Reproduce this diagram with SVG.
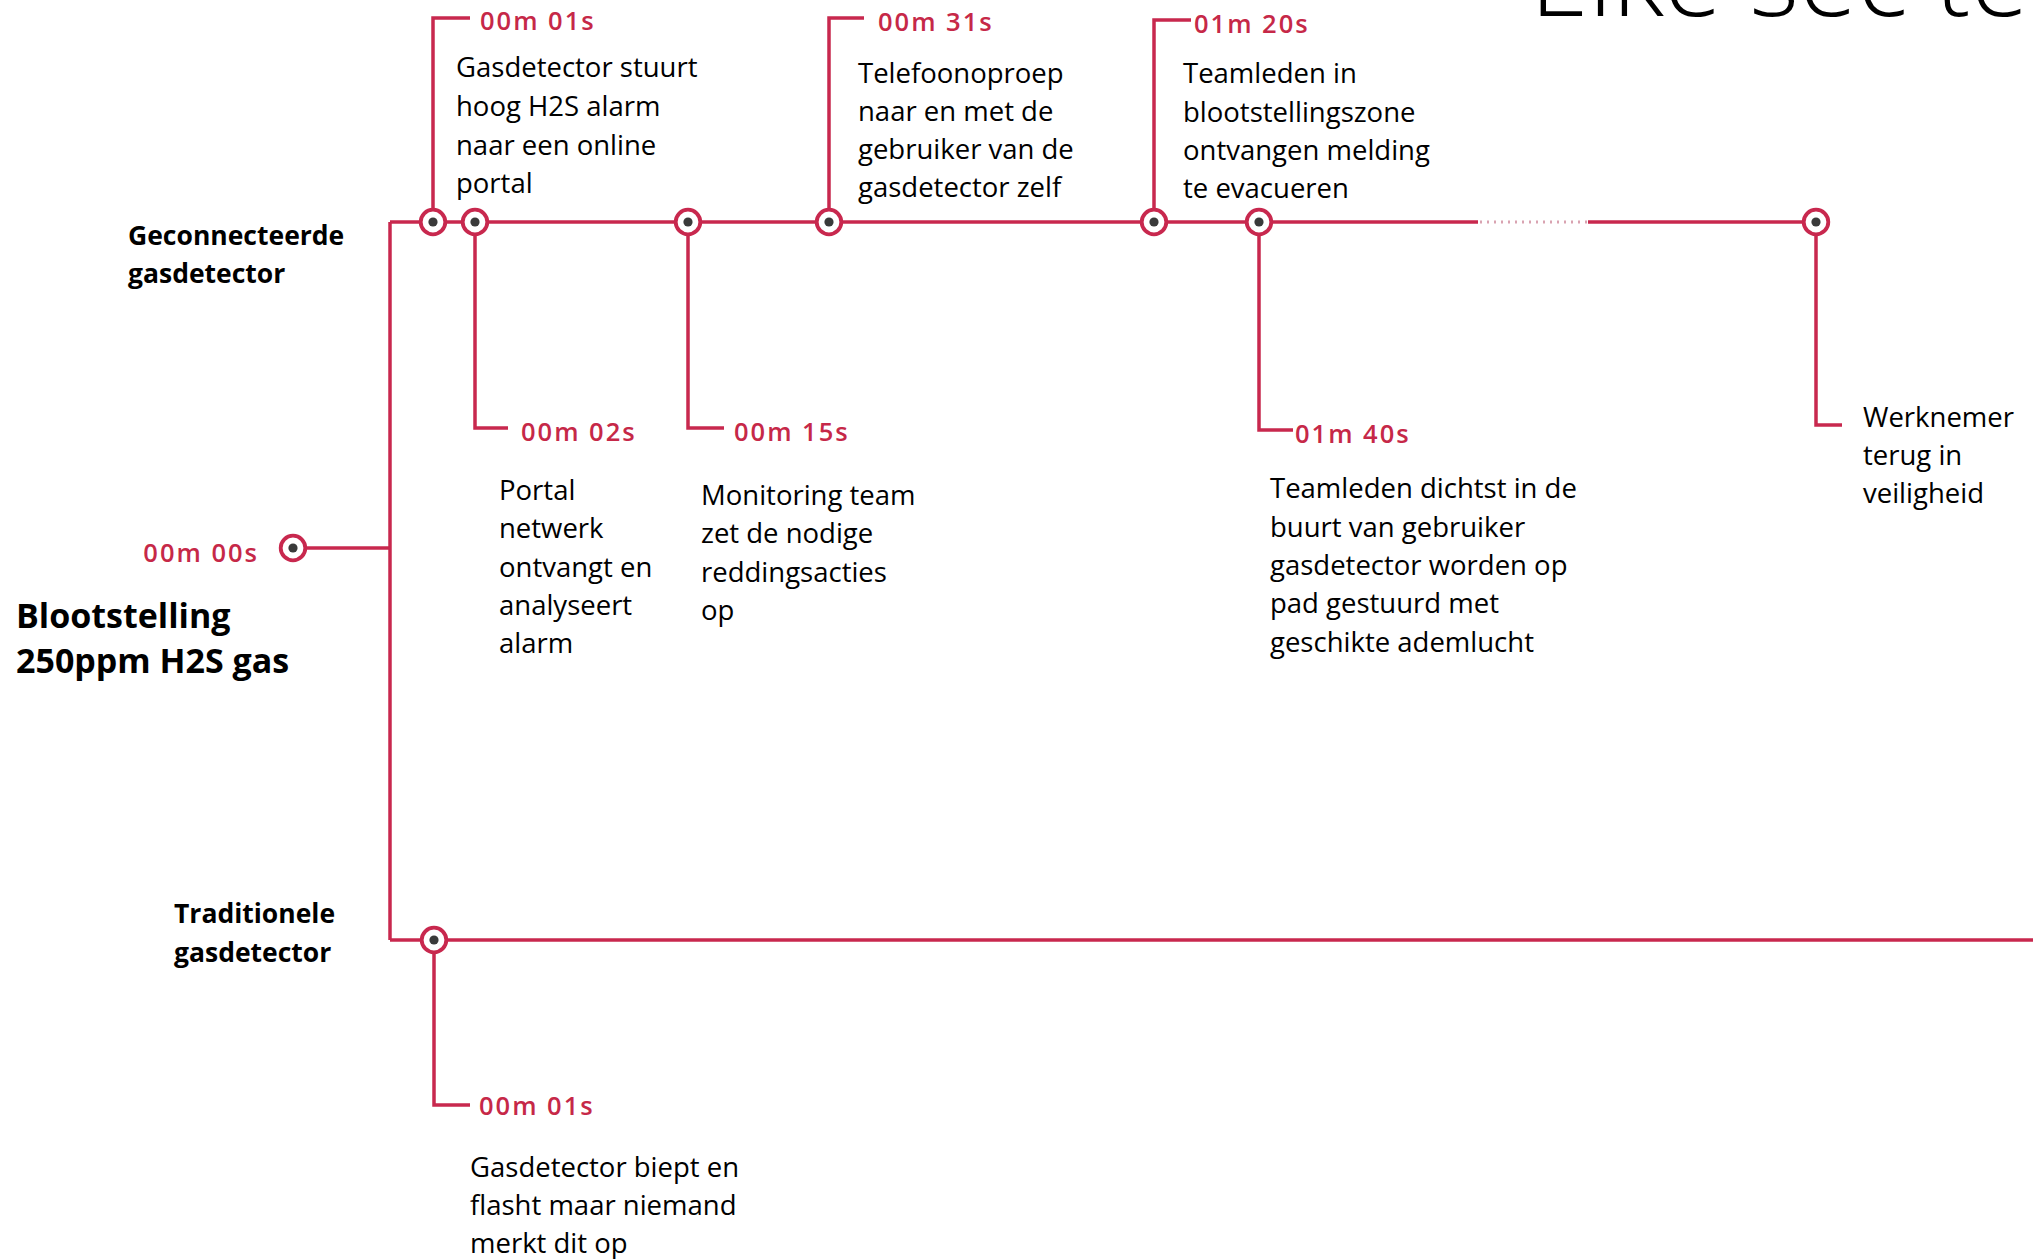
<svg xmlns="http://www.w3.org/2000/svg" width="2033" height="1259" viewBox="0 0 2033 1259">
<style>
.ln{fill:none;stroke:#C8284E;stroke-width:3.5}
.dot{fill:none;stroke:#D9A3B1;stroke-width:3;stroke-dasharray:2 5}
.t{font-family:"Open Sans","Liberation Sans",sans-serif;font-size:27.5px;fill:#000}
.b{font-family:"Open Sans","Liberation Sans",sans-serif;font-weight:700;font-size:26.5px;fill:#000}
.bb{font-family:"Open Sans","Liberation Sans",sans-serif;font-weight:700;font-size:34px;fill:#000}
.ts{font-family:"Open Sans","Liberation Sans",sans-serif;font-weight:600;font-size:25.5px;letter-spacing:2px;fill:#C62848}
.ttl{font-family:"Open Sans","Liberation Sans",sans-serif;font-weight:300;font-size:106px;fill:#000}
</style>
<defs>
<g id="node"><circle r="12.3" fill="#ffffff" stroke="#C8284E" stroke-width="3.8"/><circle r="4.6" fill="#3A3A3A"/></g>
</defs>
<rect width="2033" height="1259" fill="#fff"/>
<text class="ttl" x="1530" y="16">Elke sec telt</text>
<g id="connectors">
<path class="ln" d="M390 222 V940"/>
<path class="ln" d="M390 222 H1478"/>
<path class="dot" d="M1480 222 H1588"/>
<path class="ln" d="M1588 222 H1816"/>
<path class="ln" d="M390 940 H2033"/>
<path class="ln" d="M305 548 H390"/>
<path class="ln" d="M433 222 V18 H470"/>
<path class="ln" d="M475 222 V428 H508"/>
<path class="ln" d="M688 222 V428 H724"/>
<path class="ln" d="M829 222 V18 H864"/>
<path class="ln" d="M1154 222 V20 H1191"/>
<path class="ln" d="M1259 222 V430 H1293"/>
<path class="ln" d="M1816 222 V425 H1842"/>
<path class="ln" d="M434 940 V1105 H470"/>
</g>
<g id="n-start"><use href="#node" x="293" y="548"/><text class="ts" x="259" y="562" text-anchor="end">00m 00s</text><text class="bb" x="16" y="628">Blootstelling</text><text class="bb" x="16" y="673">250ppm H2S gas</text></g>
<g id="lbl-connected"><text class="b" x="128" y="245">Geconnecteerde</text><text class="b" x="128" y="283">gasdetector</text></g>
<g id="lbl-traditional"><text class="b" x="174" y="923">Traditionele</text><text class="b" x="174" y="962">gasdetector</text></g>
<g id="n-01s"><use href="#node" x="433" y="222"/><text class="ts" x="480" y="30">00m 01s</text>
<text class="t" x="456" y="77">Gasdetector stuurt</text><text class="t" x="456" y="116">hoog H2S alarm</text><text class="t" x="456" y="155">naar een online</text><text class="t" x="456" y="193">portal</text></g>
<g id="n-02s"><use href="#node" x="475" y="222"/><text class="ts" x="521" y="441">00m 02s</text>
<text class="t" x="499" y="500">Portal</text><text class="t" x="499" y="538">netwerk</text><text class="t" x="499" y="577">ontvangt en</text><text class="t" x="499" y="615">analyseert</text><text class="t" x="499" y="653">alarm</text></g>
<g id="n-15s"><use href="#node" x="688" y="222"/><text class="ts" x="734" y="441">00m 15s</text>
<text class="t" x="701" y="505">Monitoring team</text><text class="t" x="701" y="543">zet de nodige</text><text class="t" x="701" y="582">reddingsacties</text><text class="t" x="701" y="620">op</text></g>
<g id="n-31s"><use href="#node" x="829" y="222"/><text class="ts" x="878" y="31">00m 31s</text>
<text class="t" x="858" y="83">Telefoonoproep</text><text class="t" x="858" y="121">naar en met de</text><text class="t" x="858" y="159">gebruiker van de</text><text class="t" x="858" y="197">gasdetector zelf</text></g>
<g id="n-80s"><use href="#node" x="1154" y="222"/><text class="ts" x="1194" y="33">01m 20s</text>
<text class="t" x="1183" y="83">Teamleden in</text><text class="t" x="1183" y="122">blootstellingszone</text><text class="t" x="1183" y="160">ontvangen melding</text><text class="t" x="1183" y="198">te evacueren</text></g>
<g id="n-100s"><use href="#node" x="1259" y="222"/><text class="ts" x="1295" y="443">01m 40s</text>
<text class="t" x="1270" y="498">Teamleden dichtst in de</text><text class="t" x="1270" y="537">buurt van gebruiker</text><text class="t" x="1270" y="575">gasdetector worden op</text><text class="t" x="1270" y="613">pad gestuurd met</text><text class="t" x="1270" y="652">geschikte ademlucht</text></g>
<g id="n-safe"><use href="#node" x="1816" y="222"/>
<text class="t" x="1863" y="427">Werknemer</text><text class="t" x="1863" y="465">terug in</text><text class="t" x="1863" y="503">veiligheid</text></g>
<g id="n-trad"><use href="#node" x="434" y="940"/><text class="ts" x="479" y="1115">00m 01s</text>
<text class="t" x="470" y="1177">Gasdetector biept en</text><text class="t" x="470" y="1215">flasht maar niemand</text><text class="t" x="470" y="1253">merkt dit op</text></g>
</svg>
